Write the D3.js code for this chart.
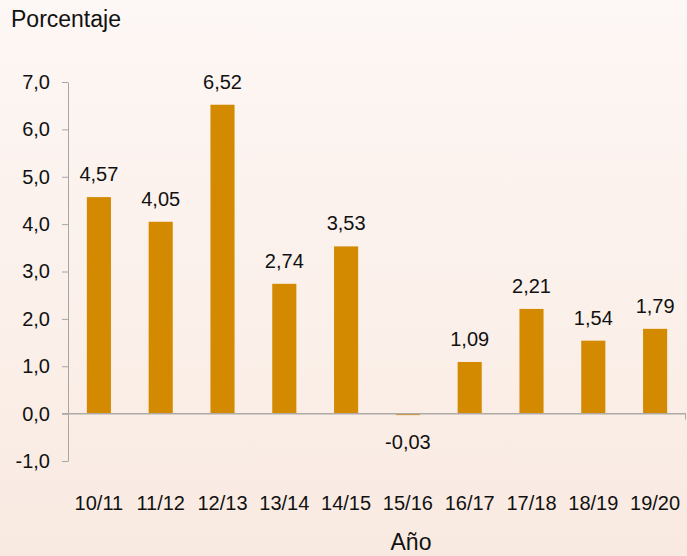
<!DOCTYPE html>
<html>
<head>
<meta charset="utf-8">
<script src="https://cdn.jsdelivr.net/npm/d3@7"></script>
<style>
  body { margin: 0; padding: 0; }
  svg { display: block; font-family: "Liberation Sans", Arial, sans-serif; }
</style>
</head>
<body>
<svg id="drawing_region"></svg>
<script>
const years = ["10/11", "11/12", "12/13", "13/14", "14/15", "15/16", "16/17", "17/18", "18/19", "19/20"];
const values = [4.57, 4.05, 6.52, 2.74, 3.53, -0.03, 1.09, 2.21, 1.54, 1.79];
const yTicks = [-1, 0, 1, 2, 3, 4, 5, 6, 7];

const width = 687, height = 556;
const fmt = v => d3.format(".2f")(v).replace(".", ",").replace("−", "-");
const fmtTick = v => d3.format(".1f")(v).replace(".", ",").replace("−", "-");

const data = years.map((y, i) => ({ year: y, value: values[i] }));

const svg = d3.select('#drawing_region')
    .attr('width', width)
    .attr('height', height);

// background gradient
const grad = svg.append('defs').append('linearGradient')
    .attr('id', 'bg').attr('x1', 0).attr('y1', 0).attr('x2', 0).attr('y2', 1);
grad.append('stop').attr('offset', '0%').attr('stop-color', '#fdf7f5');
grad.append('stop').attr('offset', '100%').attr('stop-color', '#f9eae1');
svg.append('rect').attr('width', width).attr('height', height).attr('fill', 'url(#bg)');

const xscale = d3.scaleBand()
    .domain(years)
    .range([68, 686])
    .paddingInner(0.61)
    .paddingOuter(0.305);

const yscale = d3.scaleLinear()
    .domain([-1, 7])
    .range([461, 82]);

// y axis
const yaxis = d3.axisLeft(yscale)
    .tickValues(yTicks)
    .tickFormat(fmtTick)
    .tickSize(6)
    .tickPadding(12)
    .tickSizeOuter(0);

const yg = svg.append('g')
    .attr('transform', 'translate(68,0)')
    .call(yaxis);
yg.select('.domain').attr('stroke', '#a6a6a6');
yg.selectAll('.tick line').attr('stroke', '#a6a6a6');
yg.selectAll('.tick text')
    .attr('fill', '#111')
    .style('font-size', '20px')
    .style('font-family', '"Liberation Sans", Arial, sans-serif');

// bars
svg.selectAll('rect.bar').data(data)
    .join('rect')
    .attr('class', 'bar')
    .attr('x', d => xscale(d.year))
    .attr('y', d => yscale(Math.max(0, d.value)))
    .attr('width', xscale.bandwidth())
    .attr('height', d => Math.max(1.5, Math.abs(yscale(d.value) - yscale(0))))
    .attr('fill', '#d48a00');

// zero line
svg.append('line')
    .attr('x1', 62).attr('x2', 686)
    .attr('y1', yscale(0)).attr('y2', yscale(0))
    .attr('stroke', '#b0aaa6')
    .attr('stroke-width', 1.5);
svg.append('line')
    .attr('x1', 685.5).attr('x2', 685.5)
    .attr('y1', yscale(0)).attr('y2', yscale(0) + 6)
    .attr('stroke', '#b0aaa6');

// value labels
svg.selectAll('text.val').data(data)
    .join('text')
    .attr('class', 'val')
    .attr('x', d => xscale(d.year) + xscale.bandwidth() / 2)
    .attr('y', d => d.value >= 0 ? yscale(d.value) - 16 : yscale(0) + 35)
    .attr('text-anchor', 'middle')
    .style('font-size', '20px')
    .attr('fill', '#111')
    .text(d => fmt(d.value));

// category labels
svg.selectAll('text.cat').data(data)
    .join('text')
    .attr('class', 'cat')
    .attr('x', d => xscale(d.year) + xscale.bandwidth() / 2)
    .attr('y', 510)
    .attr('text-anchor', 'middle')
    .style('font-size', '20px')
    .attr('fill', '#111')
    .text(d => d.year);

// axis titles
svg.append('text')
    .attr('x', 11).attr('y', 27)
    .style('font-size', '23px')
    .attr('fill', '#111')
    .text('Porcentaje');

svg.append('text')
    .attr('x', 411).attr('y', 550)
    .attr('text-anchor', 'middle')
    .style('font-size', '23px')
    .attr('fill', '#111')
    .text('Año');
</script>
</body>
</html>
